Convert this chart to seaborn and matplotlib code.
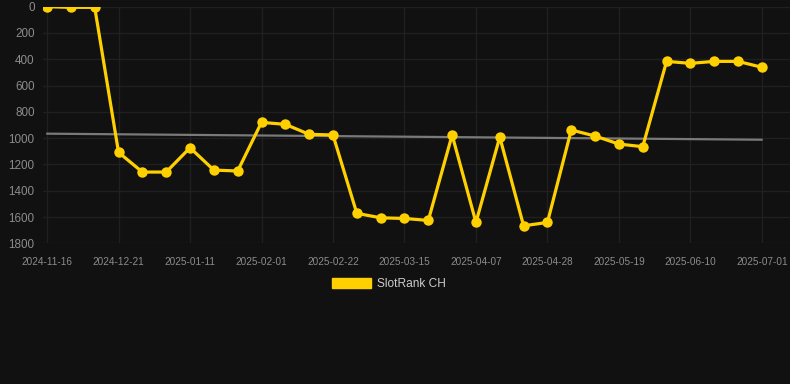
import matplotlib
matplotlib.use("Agg")
import matplotlib.pyplot as plt
import matplotlib.patches as mpatches
import seaborn as sns
import numpy as np
import pandas as pd

dates = ["2024-11-16", "2024-11-23", "2024-11-30", "2024-12-21", "2024-12-28", "2025-01-04",
         "2025-01-11", "2025-01-18", "2025-01-25", "2025-02-01", "2025-02-08", "2025-02-15",
         "2025-02-22", "2025-03-01", "2025-03-08", "2025-03-15", "2025-03-22", "2025-03-31",
         "2025-04-07", "2025-04-14", "2025-04-21", "2025-04-28", "2025-05-05", "2025-05-12",
         "2025-05-19", "2025-05-26", "2025-06-03", "2025-06-10", "2025-06-17", "2025-06-24",
         "2025-07-01"]
ranks = [0, 5, 5, 1108, 1258, 1258, 1073, 1243, 1250, 880, 895, 971, 976, 1572, 1606, 1611,
         1626, 976, 1641, 992, 1667, 1641, 938, 984, 1045, 1065, 416, 431, 416, 416, 461]
trend_values = [966, 1012]
y_ticks = [0, 200, 400, 600, 800, 1000, 1200, 1400, 1600, 1800]
series_name = "SlotRank CH"

BG = "#111111"
GRID = "#202020"
YELLOW = "#FFD000"
TICKC = "#8c8c8c"

sns.set_theme(style="dark")
plt.rcParams["font.family"] = ["Liberation Sans", "DejaVu Sans"]

fig = plt.figure(figsize=(7.9, 3.84), dpi=100, facecolor=BG)
W, H = 790, 384
ax = fig.add_axes([43 / W, 1 - 243.3 / H, (790 - 43) / W, (243.3 - 6.7) / H])
ax.set_facecolor(BG)

df = pd.DataFrame({"idx": np.arange(len(dates)), "rank": ranks})
sns.lineplot(data=df, x="idx", y="rank", ax=ax, color=YELLOW, linewidth=2.3,
             marker="o", markersize=7.5, markeredgewidth=0, zorder=4)
sns.lineplot(x=[0, len(dates) - 1], y=trend_values, ax=ax, color="#7a7a7a",
             linewidth=1.6, zorder=3)

ax.set_ylim(1800, 0)
ax.set_xlim(-0.17, 31.18)
ax.set_yticks(y_ticks)
ax.set_yticklabels([str(v) for v in y_ticks])
xt = list(range(0, len(dates), 3))
ax.set_xticks(xt)
ax.set_xticklabels([dates[i] for i in xt])

ax.grid(True, color=GRID, linewidth=1.0)
ax.set_axisbelow(True)
for s in ax.spines.values():
    s.set_visible(False)
ax.tick_params(axis="y", length=0, pad=6, labelsize=8.4, labelcolor=TICKC)
ax.tick_params(axis="x", length=7, width=1.0, color=GRID, pad=3, labelsize=7.2,
               labelcolor=TICKC)
ax.set_xlabel("")
ax.set_ylabel("")

handle = mpatches.Patch(facecolor=YELLOW, edgecolor=YELLOW, label=series_name)
leg = fig.legend(handles=[handle], loc="center", bbox_to_anchor=(389 / W, 1 - 284 / H),
                 frameon=False, fontsize=8.6, handlelength=3.3, handleheight=0.95,
                 handletextpad=0.5, labelcolor="#cccccc")

fig.savefig("out.png", dpi=100, facecolor=BG)
